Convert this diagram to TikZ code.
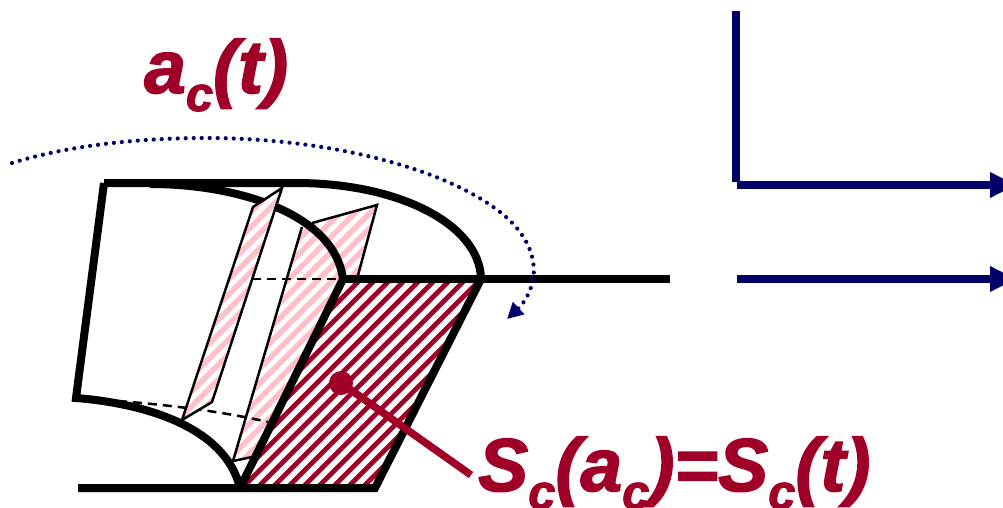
\documentclass[tikz,border=0pt]{standalone}
\usepackage{fontspec}
\setmainfont{Liberation Sans}
\newfontfamily\heavyfam{Liberation Sans}[BoldItalicFeatures={FakeBold=2}]
\usetikzlibrary{arrows.meta}
\definecolor{crim}{HTML}{A00028}
\definecolor{hatchpink}{HTML}{FFBFCB}
\definecolor{navyblue}{HTML}{000066}
\newcommand{\bigtxt}{\fontsize{75}{75}\selectfont\heavyfam\bfseries\itshape}
\newcommand{\subc}{\raisebox{-18pt}{\fontsize{49}{49}\selectfont c}}
\tikzset{
  heavy/.style={line width=8pt,black},
  thinline/.style={line width=2.5pt,black},
  dashline/.style={line width=2.5pt,black,dash pattern=on 9pt off 6pt},
  navyline/.style={line width=8.3pt,navyblue},
  navyarrow/.style={navyline,-{Triangle[length=26pt,width=24pt]}},
  dotline/.style={line width=4.2pt,navyblue,line cap=round,dash pattern=on 0pt off 8pt},
  label/.style={text=crim,inner sep=0pt,anchor=base west}
}
\newcommand{\stripes}[3]{\pgfmathsetmacro{\nxt}{int(#2+15)}\foreach \c in {#2,\nxt,...,1100}{\draw[line width=#3pt,#1] (\c,0) -- (0,\c);}}
\begin{document}
\begin{tikzpicture}[x=1pt,y=-1pt]
\useasboundingbox (0,0) rectangle (1003,508);
\clip (0,0) rectangle (1003,508);
% corner points
\coordinate (tl) at (104,183);
\coordinate (tm) at (296,183);
\coordinate (bl) at (76,398);
\coordinate (pa) at (343,279);
\coordinate (pb) at (481,279);
\coordinate (pc) at (375,488);
\coordinate (pd) at (240,488);
\coordinate (hr) at (670,279);
\coordinate (gl) at (78,488);
% hatched second sheet
\begin{scope}
\clip (302,227) -- (377,205) -- (357,279) -- (343,279) -- (252,457) -- (233,461) -- cycle;
\stripes{hatchpink}{13}{5.5}
\end{scope}
\draw[thinline] (312,223) -- (377,205) -- (357,279);
\draw[thinline] (302,227) -- (233,461) -- (252,457);
% hatched section
\begin{scope}
\clip (pa) -- (pb) -- (pc) -- (pd) -- cycle;
\stripes{crim}{10}{4.7}
\end{scope}
% dashed hidden edges
\draw[dashline] (252,279) -- (pa);
\draw[dashline] (118,401) .. controls (170,405) and (225,412) .. (268,422);
% heavy outline
\draw[heavy] (tl) -- (tm) .. controls (400,183) and (480,225) .. (pb);
\draw[heavy] (150,184) .. controls (240,184) and (335,215) .. (pa);
\draw[heavy] (tl) -- (bl) .. controls (140,403) and (225,425) .. (pd);
\draw[heavy] (pa) -- (hr);
\draw[heavy,line cap=butt] (gl) -- (pc) -- (pb);
\draw[heavy] (pa) -- (pd);
% hatched first sheet, in front of the arc
\begin{scope}
\clip (282,188) -- (253,207) -- (182,420) -- (212,402) -- cycle;
\fill[white] (150,180) rectangle (300,430);
\stripes{hatchpink}{13}{5.5}
\end{scope}
\draw[thinline,line join=miter] (282,188) -- (253,207) -- (182,420) -- (212,402) -- cycle;
% pointer
\fill[crim] (341,383) circle (12pt) coordinate (dot);
\coordinate (ptr) at (471,475);
\draw[line width=7.5pt,crim] (dot) -- (ptr);
% dotted motion arc
\coordinate (d0) at (12,163);
\coordinate (d1) at (207,138);
\coordinate (d2) at (500,212);
\coordinate (d3) at (533,280);
\coordinate (d4) at (507,319);
\draw[dotline,-{Triangle[length=16pt,width=16pt]}] (d0) .. controls (70,145) and (140,138) .. (d1) .. controls (320,138) and (440,165) .. (d2) .. controls (527,233) and (537,258) .. (d3) .. controls (530,295) and (522,305) .. (d4);
% navy axes
\coordinate (v0) at (736,11);
\coordinate (v1) at (736,182);
\coordinate (h0) at (737,185);
\coordinate (h1) at (1016,185);
\coordinate (k0) at (737,279);
\coordinate (k1) at (1016,279);
\draw[navyline] (v0) -- (v1);
\draw[navyarrow] (h0) -- (h1);
\draw[navyarrow] (k0) -- (k1);
% labels
\node[label] (ac) at (144,93) {\bigtxt a\subc(t)};
\node[label] (sc) at (478,491) {\bigtxt S\subc(a\subc)=S\subc(t)};
\end{tikzpicture}
\end{document}
